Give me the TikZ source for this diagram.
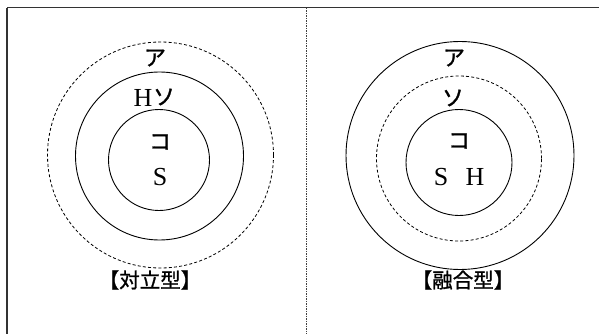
\documentclass[tikz,border=0pt]{standalone}
\usepackage{fontspec}
\setmainfont{Liberation Serif}
\newfontfamily\jp[FakeBold=1.2]{Noto Sans CJK JP}
\begin{document}
\begin{tikzpicture}[x=1pt,y=-1pt,
  ring/.style={line width=0.9pt},
  dring/.style={line width=0.8pt,dash pattern=on 3pt off 2.2pt},
  lat/.style={font=\fontsize{26}{26}\selectfont,inner sep=0pt},
  kana/.style={font=\jp\fontsize{22}{22}\selectfont,inner sep=0pt},
  captext/.style={font=\jp\fontsize{20.5}{20.5}\selectfont,inner sep=0pt}]
\useasboundingbox (0,0) rectangle (599,334);
% frame
\coordinate (tl) at (7,8);
\coordinate (tr) at (599,8);
\coordinate (bl) at (7,334);
\coordinate (dt) at (306,8);
\coordinate (db) at (306,334);
\draw[line width=1pt,black!80] (tl) -- (tr);
\draw[line width=1.6pt,black!80] (tl) -- (bl);
\draw[line width=1pt,black!75,dash pattern=on 1.5pt off 1pt] (dt) -- (db);
% left panel
\node[dring,draw,circle,minimum size=226pt,inner sep=0pt] (lA) at (160.5,155) {};
\node[ring,draw,circle,minimum size=168pt,inner sep=0pt] (lS) at (159.5,156) {};
\node[ring,draw,circle,minimum size=101pt,inner sep=0pt] (lK) at (159,160) {};
\node[kana] (la) at (155,58) {ア};
\node[lat] (lh) at (143,98) {H};
\node[kana] (ls) at (164,97) {ソ};
\node[kana] (lk) at (160,142) {コ};
\node[lat] (lss) at (160,177) {S};
\node[captext] (lcap) at (150,280) {【対立型】};
% right panel
\node[ring,draw,circle,minimum size=228pt,inner sep=0pt] (rA) at (460,155.5) {};
\node[dring,draw,circle,minimum size=165pt,inner sep=0pt] (rS) at (459,158.5) {};
\node[ring,draw,circle,minimum size=106pt,inner sep=0pt] (rK) at (459,162.5) {};
\node[kana] (ra) at (454,58) {ア};
\node[kana] (rs) at (453,98) {ソ};
\node[kana] (rk) at (459,141) {コ};
\node[lat] (rss) at (441,177) {S};
\node[lat] (rh) at (475,177) {H};
\node[captext] (rcap) at (463,280) {【融合型】};
\end{tikzpicture}
\end{document}
